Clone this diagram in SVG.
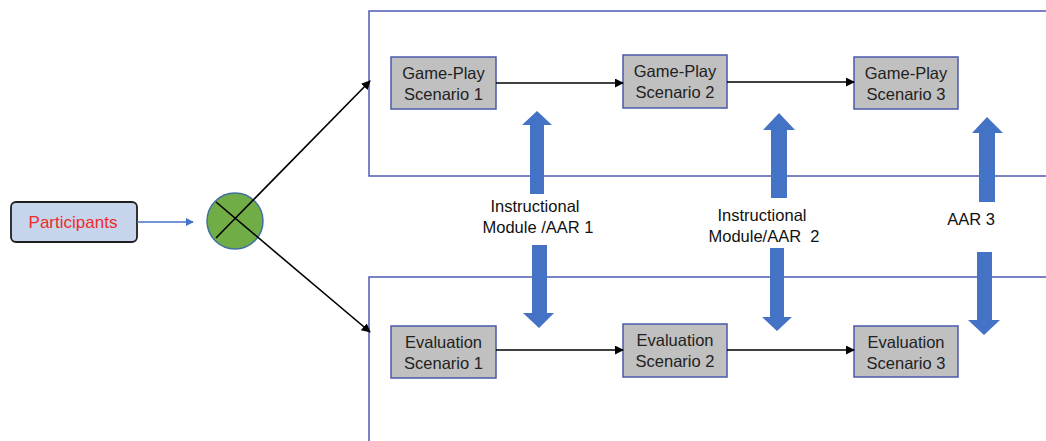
<svg xmlns="http://www.w3.org/2000/svg" width="1046" height="441" viewBox="0 0 1046 441">
<defs>
<marker id="ah" viewBox="0 0 10 10" refX="9" refY="5" markerWidth="9" markerHeight="9" markerUnits="userSpaceOnUse" orient="auto"><path d="M0,0 L10,5 L0,10 z" fill="#000"/></marker>
<marker id="ahb" viewBox="0 0 10 10" refX="9" refY="5" markerWidth="8" markerHeight="8" markerUnits="userSpaceOnUse" orient="auto"><path d="M0,0 L10,5 L0,10 z" fill="#4472c4"/></marker>
</defs>
<style>
.cont{fill:none;stroke:#4f5bb5;stroke-width:1.5}
.box{fill:#c0c0c0;stroke:#4a58a8;stroke-width:1.5}
.t{font-family:"Liberation Sans",Arial,sans-serif;font-size:16.5px;fill:#222;text-anchor:middle}
.lbl{font-family:"Liberation Sans",Arial,sans-serif;font-size:16.5px;fill:#111;text-anchor:middle}
.con{stroke:#000;stroke-width:1.6;fill:none;marker-end:url(#ah)}
.blk{fill:#4472c4}
</style>
<rect width="1046" height="441" fill="#fff"/>
<g id="containers">
<rect class="cont" x="369" y="11" width="690" height="165"/>
<rect class="cont" x="369" y="277" width="690" height="180"/>
</g>
<g id="participants">
<rect x="11" y="202" width="126" height="40" rx="5" fill="#c6d4ec" stroke="#1f1f1f" stroke-width="1.8"/>
<text x="73" y="227.5" class="t" style="fill:#ee2b2b;font-size:17px">Participants</text>
</g>
<g id="junction">
<circle cx="235" cy="221" r="28" fill="#70ad47" stroke="#41719c" stroke-width="1.5"/>
</g>
<g id="gp1"><rect class="box" x="391" y="57" width="105" height="52"/><text class="t" x="443.5" y="79">Game-Play</text><text class="t" x="443.5" y="100">Scenario 1</text></g>
<g id="gp2"><rect class="box" x="623" y="55" width="104" height="53"/><text class="t" x="675" y="77">Game-Play</text><text class="t" x="675" y="98">Scenario 2</text></g>
<g id="gp3"><rect class="box" x="854" y="57" width="104" height="52"/><text class="t" x="906" y="79">Game-Play</text><text class="t" x="906" y="100">Scenario 3</text></g>
<g id="ev1"><rect class="box" x="391" y="326" width="105" height="52"/><text class="t" x="443.5" y="348">Evaluation</text><text class="t" x="443.5" y="369">Scenario 1</text></g>
<g id="ev2"><rect class="box" x="623" y="324" width="104" height="53"/><text class="t" x="675" y="346">Evaluation</text><text class="t" x="675" y="367">Scenario 2</text></g>
<g id="ev3"><rect class="box" x="854" y="326" width="104" height="51"/><text class="t" x="906" y="348">Evaluation</text><text class="t" x="906" y="369">Scenario 3</text></g>
<g id="connectors">
<line x1="137" y1="222" x2="193" y2="222" stroke="#4472c4" stroke-width="1.5" marker-end="url(#ahb)"/>
<line x1="216" y1="238" x2="370" y2="81" class="con"/>
<line x1="216" y1="202" x2="370" y2="332" class="con"/>
<line x1="496" y1="83" x2="623" y2="83" class="con"/>
<line x1="727" y1="82" x2="854" y2="82" class="con"/>
<line x1="496" y1="350" x2="623" y2="350" class="con"/>
<line x1="727" y1="350" x2="854" y2="350" class="con"/>
</g>
<g id="block-arrows">
<path class="blk" d="M530,194 V125 H522 L537,111 L552,125 H544 V194 Z"/>
<path class="blk" d="M532,245 V313 H523 L539,328 L554,313 H547 V245 Z"/>
<path class="blk" d="M771,198 V130 H763 L779,113 L795,130 H787 V198 Z"/>
<path class="blk" d="M770,248 V317 H762 L777,331 L792,317 H784 V248 Z"/>
<path class="blk" d="M979,202 V133 H972 L987,117 L1003,133 H995 V202 Z"/>
<path class="blk" d="M977,252 V320 H968 L984,335 L1000,320 H992 V252 Z"/>
</g>
<g id="labels">
<text class="lbl" x="535" y="212">Instructional</text>
<text class="lbl" x="538" y="233">Module /AAR 1</text>
<text class="lbl" x="762" y="221">Instructional</text>
<text class="lbl" x="764" y="242" xml:space="preserve">Module/AAR  2</text>
<text class="lbl" x="971" y="225">AAR 3</text>
</g>
</svg>
